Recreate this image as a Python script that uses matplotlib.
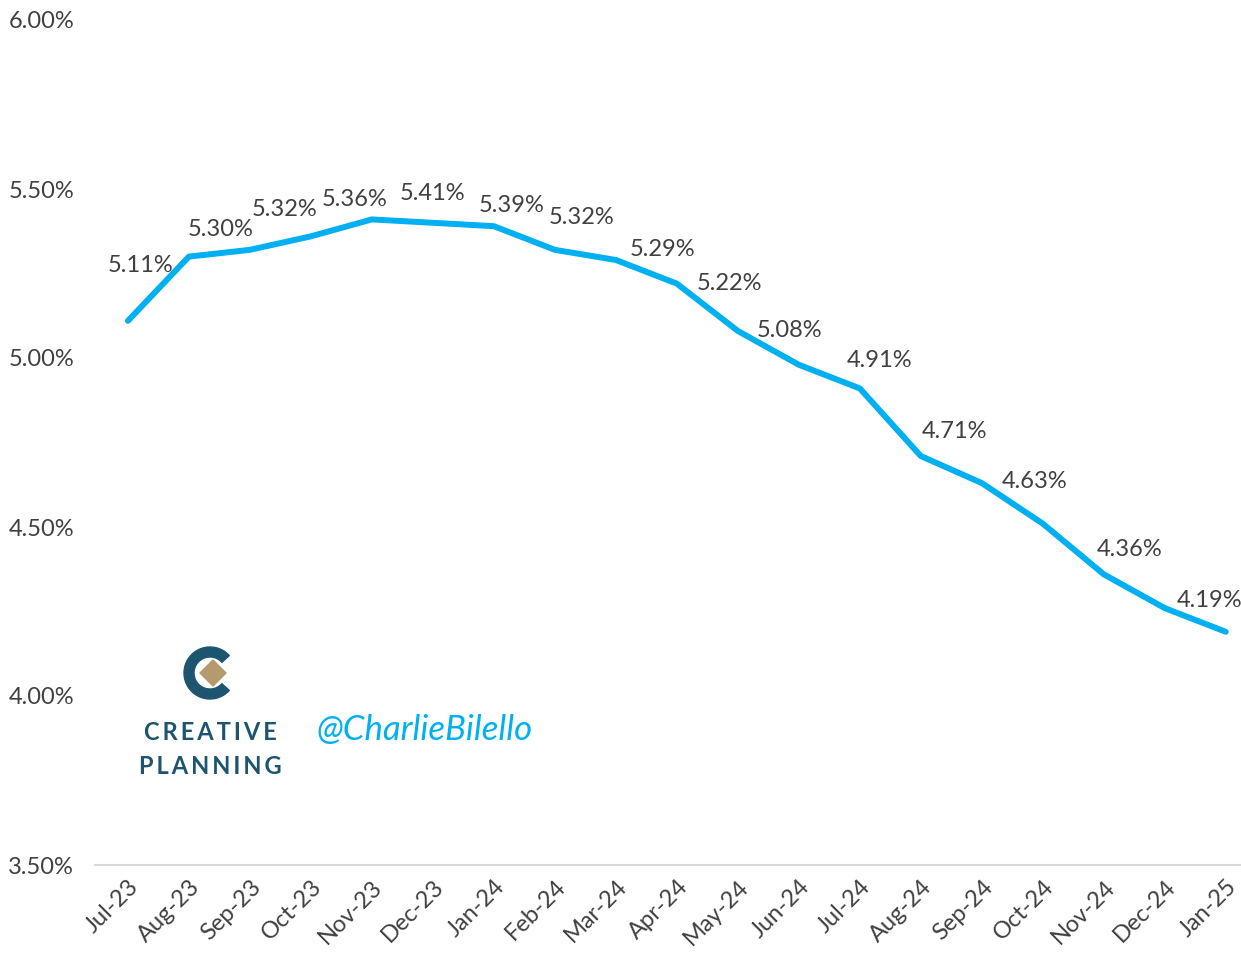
import matplotlib
matplotlib.use("Agg")
import matplotlib.pyplot as plt
from matplotlib.patches import Wedge, Polygon
from matplotlib.ticker import FuncFormatter

# ---------------- data ----------------
months = ["Jul-23", "Aug-23", "Sep-23", "Oct-23", "Nov-23", "Dec-23", "Jan-24",
          "Feb-24", "Mar-24", "Apr-24", "May-24", "Jun-24", "Jul-24", "Aug-24",
          "Sep-24", "Oct-24", "Nov-24", "Dec-24", "Jan-25"]
rates = [5.11, 5.30, 5.32, 5.36, 5.41, 5.40, 5.39, 5.32, 5.29, 5.22, 5.08,
         4.98, 4.91, 4.71, 4.63, 4.51, 4.36, 4.26, 4.19]
# which points carry a data label
labelled = ["Jul-23", "Aug-23", "Sep-23", "Oct-23", "Nov-23", "Jan-24", "Feb-24",
            "Mar-24", "Apr-24", "May-24", "Jul-24", "Aug-24", "Sep-24", "Nov-24",
            "Jan-25"]
# label offsets (pixels) from the point
label_offsets = {"Jul-23": (13, 55), "Aug-23": (32, 27), "Sep-23": (35, 40),
                 "Oct-23": (44, 37), "Nov-23": (61, 26), "Jan-24": (18, 21),
                 "Feb-24": (27, 32), "Mar-24": (47, 10), "Apr-24": (53, 0),
                 "May-24": (52, 0), "Jul-24": (20, 28), "Aug-24": (34, 25),
                 "Sep-24": (53, 2), "Nov-24": (26, 25), "Jan-25": (-16, 31)}
y_ticks = [3.5, 4.0, 4.5, 5.0, 5.5, 6.0]

# ---------------- style ----------------
LINE = "#00B0F0"
TXT = "#404040"
NAVY = "#1D5571"
FONT = ["Lato", "DejaVu Sans"]
plt.rcParams["font.family"] = FONT

W, H = 1241, 975
fig = plt.figure(figsize=(W / 100, H / 100), dpi=100)
ax = fig.add_axes([95 / W, 1 - 865 / H, (W - 95) / W, (865 - 20) / H])

x = list(range(len(months)))
ax.plot(x, rates, color=LINE, lw=4.3, solid_joinstyle="round",
        solid_capstyle="round", zorder=3)

for m in labelled:
    i = months.index(m)
    dx, dy = label_offsets[m]
    ax.annotate(f"{rates[i]:.2f}%", (i, rates[i]), xytext=(dx * 0.72, dy * 0.72),
                textcoords="offset points", ha="center", va="center",
                fontsize=17, color=TXT, zorder=4)

ax.set_xlim(-0.54, 18.25)
ax.set_ylim(3.5, 6.0)
ax.set_yticks(y_ticks)
ax.yaxis.set_major_formatter(FuncFormatter(lambda v, p: f"{v:.2f}%"))
ax.set_xticks(x)
ax.set_xticklabels(months, rotation=45, ha="right", rotation_mode="anchor")
ax.tick_params(axis="both", length=0, labelsize=17, colors=TXT)
ax.tick_params(axis="y", pad=15)
ax.tick_params(axis="x", pad=8)
for s in ["top", "right", "left"]:
    ax.spines[s].set_visible(False)
ax.spines["bottom"].set_color("#D9D9D9")
ax.spines["bottom"].set_linewidth(1.5)

# ---------------- logo / watermark ----------------
lax = fig.add_axes([180 / W, 1 - 703 / H, 60 / W, 60 / H])
lax.set_xlim(0, 60)
lax.set_ylim(0, 60)
lax.set_aspect("equal")
lax.axis("off")
lax.add_patch(Wedge((30, 30), 26, 42, 318, width=10, color=NAVY))
lax.add_patch(Polygon([[33, 43], [46, 30], [33, 17], [20, 30]], closed=True,
                      color="#B59A6D"))

for word, yc in [("CREATIVE", 733), ("PLANNING", 766)]:
    spaced = "\u2009".join(word)
    fig.text(210 / W, 1 - yc / H, spaced, ha="center", va="center",
             fontsize=17, fontweight="bold", color=NAVY,
             family=["Lato", "DejaVu Sans"])
fig.text(425 / W, 1 - 730 / H, "@CharlieBilello", ha="center", va="center",
         fontsize=25, style="italic", color=LINE)

fig.savefig("out.png", dpi=100)
